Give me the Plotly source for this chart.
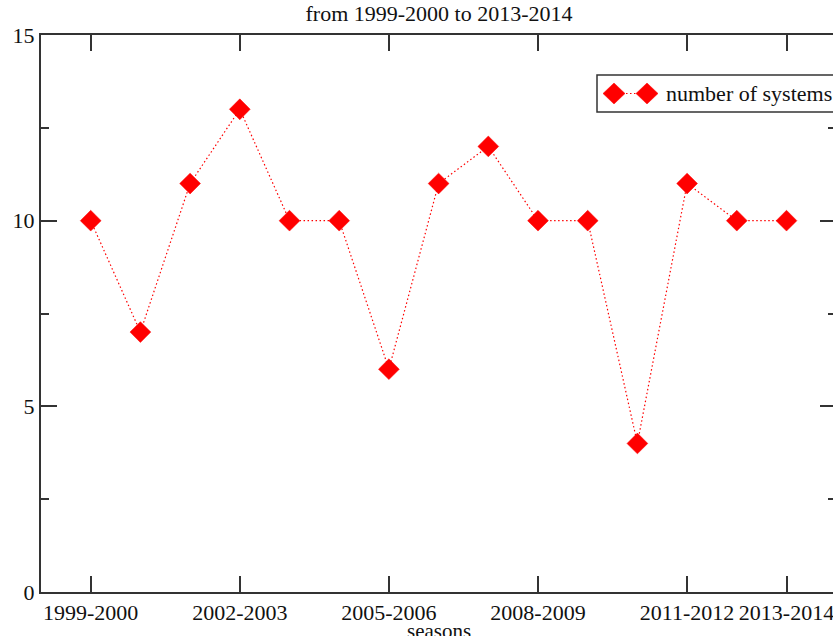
import plotly.graph_objects as go

seasons = ["1999-2000", "2000-2001", "2001-2002", "2002-2003", "2003-2004",
           "2004-2005", "2005-2006", "2006-2007", "2007-2008", "2008-2009",
           "2009-2010", "2010-2011", "2011-2012", "2012-2013", "2013-2014"]
systems = [10, 7, 11, 13, 10, 10, 6, 11, 12, 10, 10, 4, 11, 10, 10]
tick_labels = ["1999-2000", "2002-2003", "2005-2006", "2008-2009", "2011-2012", "2013-2014"]
series_name = "number of systems"
title_text = "from 1999-2000 to 2013-2014"
x_title = "seasons"

idx = list(range(len(seasons)))
tick_pos = [seasons.index(t) for t in tick_labels]

RED = "#ff0000"
AX = "#333333"
TXT = "#111111"
FONT = "Liberation Serif, Times New Roman, serif"

W, H = 833, 636
ML, MR, MT, MB = 41, 0, 35, 44
step = 49.7
x0 = -1
x1 = x0 + (W - ML - MR) / step
PW = W - ML - MR
PH = H - MT - MB
DOT = "1.5px,2.5px"

fig = go.Figure()
fig.add_trace(go.Scatter(
    x=idx, y=systems, mode="lines+markers", name=series_name,
    line=dict(color=RED, width=1.2, dash=DOT),
    marker=dict(symbol="diamond", size=16, color=RED, line=dict(color=RED, width=0.5)),
    showlegend=False, cliponaxis=False,
))
# helper trace for the right-hand tick axis
fig.add_trace(go.Scatter(x=idx, y=systems, yaxis="y2", mode="markers",
                         marker=dict(opacity=0), showlegend=False, hoverinfo="skip"))

def px_x(p):
    return (p - ML) / PW

def px_y(p):
    return 1 - (p - MT) / PH

shapes = []
# legend box
shapes.append(dict(type="rect", xref="paper", yref="paper",
                   x0=px_x(597), x1=px_x(850), y0=px_y(112), y1=px_y(75),
                   line=dict(color=AX, width=1.5), fillcolor="white", layer="above"))
shapes.append(dict(type="line", xref="paper", yref="paper",
                   x0=px_x(614), x1=px_x(647), y0=px_y(93.5), y1=px_y(93.5),
                   line=dict(color=RED, width=1.2, dash=DOT), layer="above"))
for cx in (614, 647):
    shapes.append(dict(type="path", xref="paper", yref="paper",
                       xsizemode="pixel", ysizemode="pixel",
                       xanchor=px_x(cx), yanchor=px_y(93.5),
                       path="M 0 10.5 L 11 0 L 0 -10.5 L -11 0 Z",
                       fillcolor=RED, line=dict(color=RED, width=0.5), layer="above"))

annotations = [
    dict(text=series_name, xref="paper", yref="paper", x=px_x(664), y=px_y(93),
         xanchor="left", yanchor="middle", showarrow=False,
         font=dict(family=FONT, size=22, color=TXT)),
    dict(text=x_title, xref="paper", yref="paper", x=px_x(439), y=px_y(631),
         xanchor="center", yanchor="middle", showarrow=False,
         font=dict(family=FONT, size=21, color=TXT)),
]

fig.update_layout(
    width=W, height=H,
    margin=dict(l=ML, r=MR, t=MT, b=MB, pad=0),
    paper_bgcolor="white", plot_bgcolor="white",
    font=dict(family=FONT, color=TXT),
    title=dict(text=title_text, x=439 / W, xanchor="center",
               y=1 - 13 / H, yanchor="middle", yref="container", xref="container",
               font=dict(family=FONT, size=22, color=TXT)),
    xaxis=dict(range=[x0, x1], tickvals=tick_pos, ticktext=tick_labels,
               showgrid=False, zeroline=False, showline=True, mirror="ticks",
               linecolor=AX, linewidth=2, ticks="inside", ticklen=16, tickwidth=2,
               tickcolor=AX, ticklabeloverflow="allow",
               tickfont=dict(family=FONT, size=22, color=TXT)),
    yaxis=dict(range=[0, 15], tickvals=[0, 5, 10, 15], showgrid=False, zeroline=False,
               showline=True, linecolor=AX, linewidth=2, ticks="inside", ticklen=16,
               tickwidth=2, tickcolor=AX,
               minor=dict(dtick=2.5, ticks="inside", ticklen=8, tickwidth=2, tickcolor=AX, showgrid=False),
               tickfont=dict(family=FONT, size=22, color=TXT)),
    yaxis2=dict(range=[0, 15], overlaying="y", side="right", tickvals=[0, 5, 10, 15],
                showticklabels=False, showgrid=False, zeroline=False, showline=False,
                ticks="inside", ticklen=13, tickwidth=2, tickcolor=AX,
                minor=dict(dtick=2.5, ticks="inside", ticklen=5, tickwidth=2, tickcolor=AX, showgrid=False)),
    shapes=shapes, annotations=annotations,
)

fig.write_html("out.html", config={"displayModeBar": False},
               post_script="document.body.style.margin='0';document.body.style.overflow='hidden';")
